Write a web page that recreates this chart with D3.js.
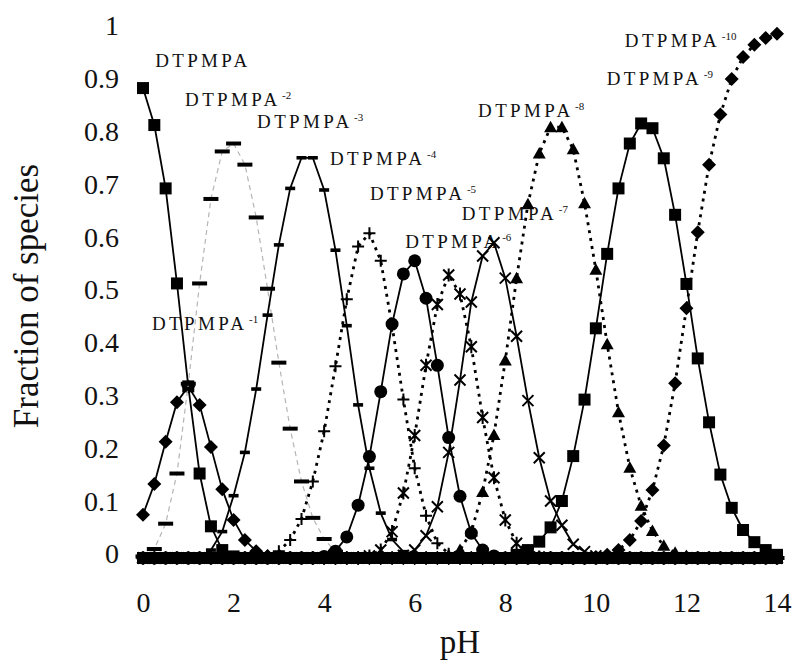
<!DOCTYPE html>
<html>
<head>
<meta charset="utf-8">
<script src="https://cdn.jsdelivr.net/npm/d3@7"></script>
<style>
  body { margin: 0; background: #fff; }
  svg { display: block; font-family: "Liberation Serif", "Times New Roman", serif; }
</style>
</head>
<body>
<script>
// pH grid, one row per pH unit
let pH = [
    0, 0.25, 0.5, 0.75,
    1, 1.25, 1.5, 1.75,
    2, 2.25, 2.5, 2.75,
    3, 3.25, 3.5, 3.75,
    4, 4.25, 4.5, 4.75,
    5, 5.25, 5.5, 5.75,
    6, 6.25, 6.5, 6.75,
    7, 7.25, 7.5, 7.75,
    8, 8.25, 8.5, 8.75,
    9, 9.25, 9.5, 9.75,
    10, 10.25, 10.5, 10.75,
    11, 11.25, 11.5, 11.75,
    12, 12.25, 12.5, 12.75,
    13, 13.25, 13.5, 13.75,
    14
];

// Fraction of each species
let h10 = [
    0.89, 0.82, 0.70, 0.52,
    0.325, 0.16, 0.06, 0.015,
    0.003, 0, 0, 0,
    0, 0, 0, 0,  0, 0, 0, 0,  0, 0, 0, 0,  0, 0, 0, 0,
    0, 0, 0, 0,  0, 0, 0, 0,  0, 0, 0, 0,  0, 0, 0, 0,
    0, 0, 0, 0,  0, 0, 0, 0,  0, 0, 0, 0,
    0
];
let m1 = [
    0.082, 0.14, 0.22, 0.295,
    0.325, 0.29, 0.21, 0.13,
    0.072, 0.034, 0.013, 0.004,
    0, 0, 0, 0,  0, 0, 0, 0,  0, 0, 0, 0,  0, 0, 0, 0,
    0, 0, 0, 0,  0, 0, 0, 0,  0, 0, 0, 0,  0, 0, 0, 0,
    0, 0, 0, 0,  0, 0, 0, 0,  0, 0, 0, 0,
    0
];
let m2 = [
    0.003, 0.017, 0.065, 0.16,
    0.33, 0.52, 0.68, 0.77,
    0.785, 0.745, 0.645, 0.51,
    0.37, 0.245, 0.145, 0.076,
    0.036, 0.012, 0.004, 0,
    0, 0, 0, 0,  0, 0, 0, 0,  0, 0, 0, 0,  0, 0, 0, 0,
    0, 0, 0, 0,  0, 0, 0, 0,  0, 0, 0, 0,  0, 0, 0, 0,
    0, 0, 0, 0,
    0
];
let m3 = [
    0, 0, 0, 0,
    0, 0.003, 0.015, 0.05,
    0.118, 0.2, 0.32, 0.46,
    0.593, 0.70, 0.758, 0.758,
    0.697, 0.583, 0.44, 0.29,
    0.17, 0.085, 0.035, 0.012,
    0.003, 0, 0, 0,
    0, 0, 0, 0,  0, 0, 0, 0,  0, 0, 0, 0,  0, 0, 0, 0,
    0, 0, 0, 0,  0, 0, 0, 0,  0, 0, 0, 0,
    0
];
let m4 = [
    0, 0, 0, 0,
    0, 0, 0, 0,
    0, 0, 0, 0.004,
    0.013, 0.034, 0.074, 0.145,
    0.24, 0.363, 0.49, 0.59,
    0.615, 0.563, 0.44, 0.30,
    0.17, 0.08, 0.028, 0.008,
    0, 0, 0, 0,  0, 0, 0, 0,  0, 0, 0, 0,  0, 0, 0, 0,
    0, 0, 0, 0,  0, 0, 0, 0,  0, 0, 0, 0,
    0
];
let m5 = [
    0, 0, 0, 0,
    0, 0, 0, 0,
    0, 0, 0, 0,
    0, 0, 0, 0,
    0.003, 0.013, 0.04, 0.1,
    0.192, 0.315, 0.443, 0.538,
    0.563, 0.492, 0.365, 0.228,
    0.117, 0.047, 0.015, 0.004,
    0, 0, 0, 0,  0, 0, 0, 0,  0, 0, 0, 0,  0, 0, 0, 0,
    0, 0, 0, 0,  0, 0, 0, 0,
    0
];
let m6 = [
    0, 0, 0, 0,
    0, 0, 0, 0,
    0, 0, 0, 0,
    0, 0, 0, 0,
    0, 0, 0, 0,
    0.004, 0.015, 0.05, 0.123,
    0.232, 0.365, 0.48, 0.536,
    0.5, 0.4, 0.266, 0.152,
    0.072, 0.028, 0.009, 0.002,
    0, 0, 0, 0,  0, 0, 0, 0,  0, 0, 0, 0,
    0, 0, 0, 0,  0, 0, 0, 0,
    0
];
let m7 = [
    0, 0, 0, 0,
    0, 0, 0, 0,
    0, 0, 0, 0,
    0, 0, 0, 0,
    0, 0, 0, 0,
    0, 0, 0, 0.005,
    0.015, 0.042, 0.097, 0.2,
    0.337, 0.485, 0.572, 0.597,
    0.53, 0.42, 0.298, 0.19,
    0.108, 0.062, 0.026, 0.012,
    0.004, 0, 0, 0,
    0, 0, 0, 0,  0, 0, 0, 0,  0, 0, 0, 0,
    0
];
let m8 = [
    0, 0, 0, 0,
    0, 0, 0, 0,
    0, 0, 0, 0,
    0, 0, 0, 0,
    0, 0, 0, 0,
    0, 0, 0, 0,
    0, 0, 0, 0.005,
    0.015, 0.05, 0.125, 0.233,
    0.374, 0.53, 0.67, 0.766,
    0.816, 0.816, 0.774, 0.672,
    0.546, 0.405, 0.276, 0.171,
    0.099, 0.051, 0.023, 0.01,
    0.004, 0, 0, 0,
    0, 0, 0, 0,
    0
];
let m9 = [
    0, 0, 0, 0,
    0, 0, 0, 0,
    0, 0, 0, 0,
    0, 0, 0, 0,
    0, 0, 0, 0,
    0, 0, 0, 0,
    0, 0, 0, 0,
    0, 0, 0, 0,
    0, 0.006, 0.015, 0.031,
    0.058, 0.108, 0.193, 0.3,
    0.435, 0.576, 0.70, 0.785,
    0.823, 0.814, 0.757, 0.65,
    0.519, 0.378, 0.257, 0.158,
    0.095, 0.053, 0.03, 0.015,
    0.006
];
let m10 = [
    0, 0, 0, 0,
    0, 0, 0, 0,
    0, 0, 0, 0,
    0, 0, 0, 0,
    0, 0, 0, 0,
    0, 0, 0, 0,
    0, 0, 0, 0,
    0, 0, 0, 0,
    0, 0, 0, 0,
    0, 0, 0, 0,
    0.002, 0.006, 0.015, 0.034,
    0.07, 0.129, 0.213, 0.331,
    0.473, 0.617, 0.745, 0.84,
    0.907, 0.949, 0.972, 0.985,
    0.993
];

// Species labels: charge superscripts and anchor point (pH, fraction)
let charges = ["", "-1", "-2", "-3", "-4", "-5", "-6", "-7", "-8", "-9", "-10"];
let labelPH = [0.27, 0.2, 0.93, 2.52, 4.13, 5.01, 5.79, 7.04, 7.4, 10.24, 10.64];
let labelFrac = [0.93, 0.432, 0.856, 0.814, 0.744, 0.678, 0.587, 0.64, 0.836, 0.896, 0.968];

let xTicks = [0, 2, 4, 6, 8, 10, 12, 14];
let yTicks = [0, 0.1, 0.2, 0.3, 0.4, 0.5, 0.6, 0.7, 0.8, 0.9, 1];

let opts = {
    width: 795,
    height: 672,
    left: 143,
    right: 777,
    top: 30,
    bottom: 558
};

// Marker and line style for each species, in drawing order
let seriesValues = [h10, m1, m2, m3, m4, m5, m6, m7, m8, m9, m10];
let seriesStyle = [
    { marker: "square", line: "solid" },
    { marker: "diamond", line: "solid" },
    { marker: "bar", line: "grey" },
    { marker: "tick", line: "solid" },
    { marker: "plus", line: "dotted" },
    { marker: "circle", line: "solid" },
    { marker: "star", line: "dotted" },
    { marker: "cross", line: "solid" },
    { marker: "triangle", line: "dotted" },
    { marker: "square", line: "solid" },
    { marker: "diamond", line: "dotted" }
];

let x = d3.scaleLinear().domain([0, 14]).range([opts.left, opts.right]);
let y = d3.scaleLinear().domain([0, 1]).range([opts.bottom, opts.top]);

let svg = d3.select("body")
            .append("svg")
            .attr("width", opts.width)
            .attr("height", opts.height);

svg.append("rect")
   .attr("width", opts.width)
   .attr("height", opts.height)
   .attr("fill", "#fff");

drawAxes();
drawLabels();
drawSeries();

// Tick labels and axis titles
function drawAxes() {
    let xAxis = svg.append("g")
        .attr("transform", "translate(0,592)")
        .call(d3.axisBottom(x).tickValues(xTicks).tickSize(0).tickPadding(0));

    let yAxis = svg.append("g")
        .attr("transform", "translate(119,-4)")
        .call(d3.axisLeft(y).tickValues(yTicks).tickSize(0).tickPadding(0)
                .tickFormat((d) => String(d)));

    [xAxis, yAxis].forEach((g) => {
        g.select(".domain").remove();
        g.selectAll("text")
         .attr("font-family", "Liberation Serif, serif")
         .attr("font-size", 28)
         .attr("fill", "#111");
    });

    svg.append("text")
       .attr("x", (opts.left + opts.right) / 2)
       .attr("y", 653)
       .attr("text-anchor", "middle")
       .attr("font-size", 33)
       .attr("fill", "#111")
       .text("pH");

    svg.append("text")
       .attr("transform", "translate(38,296) rotate(-90)")
       .attr("text-anchor", "middle")
       .attr("font-size", 35)
       .attr("fill", "#111")
       .text("Fraction of species");
}

// Species names next to their curves
function drawLabels() {
    let g = svg.append("g").attr("fill", "#111");
    charges.forEach((c, i) => {
        let px = x(labelPH[i]);
        let py = y(labelFrac[i]);
        g.append("text")
         .attr("x", px)
         .attr("y", py)
         .attr("font-size", 19)
         .attr("textLength", 92)
         .attr("lengthAdjust", "spacing")
         .text("DTPMPA");
        if (c) {
            g.append("text")
             .attr("x", px + 97)
             .attr("y", py - 7)
             .attr("font-size", 11)
             .text(c);
        }
    });
}

function markerPath(type) {
    switch (type) {
        case "square": return "M-6,-6H6V6H-6Z";
        case "diamond": return "M0,-7L7,0L0,7L-7,0Z";
        case "circle": return "M6.5,0A6.5,6.5 0 1,1 -6.5,0A6.5,6.5 0 1,1 6.5,0Z";
        case "triangle": return "M0,-6.5L6.5,5L-6.5,5Z";
        case "bar": return "M-7.5,-2H7.5V2H-7.5Z";
        case "tick": return "M-5,-1.8H5V1.8H-5Z";
        case "plus": return "M-6,0H6M0,-6V6";
        case "cross": return "M-5.5,-5.5L5.5,5.5M-5.5,5.5L5.5,-5.5";
        case "star": return "M-5.5,-5.5L5.5,5.5M-5.5,5.5L5.5,-5.5M0,-6.5V6.5";
    }
}

// Lines and markers of every species
function drawSeries() {
    let line = d3.line()
                 .x((d, i) => x(pH[i]))
                 .y((d) => y(d));

    seriesValues.forEach((values, k) => {
        let style = seriesStyle[k];
        let g = svg.append("g").attr("class", "series" + k);

        let path = g.append("path")
                    .datum(values)
                    .attr("d", line)
                    .attr("fill", "none");
        if (style.line === "solid") {
            path.attr("stroke", "#000").attr("stroke-width", 1.8);
        } else if (style.line === "dotted") {
            path.attr("stroke", "#000").attr("stroke-width", 2.8)
                .attr("stroke-dasharray", "3 5");
        } else {
            path.attr("stroke", "#b5b5b5").attr("stroke-width", 1.2)
                .attr("stroke-dasharray", "5 4");
        }

        let open = ["plus", "cross", "star"].includes(style.marker);
        g.selectAll(".mark")
         .data(values)
         .join("path")
         .attr("class", "mark")
         .attr("transform", (d, i) => `translate(${x(pH[i])},${y(d)})`)
         .attr("d", markerPath(style.marker))
         .attr("fill", open ? "none" : "#000")
         .attr("stroke", open ? "#000" : "none")
         .attr("stroke-width", open ? 2 : 0);
    });
}
</script>
</body>
</html>
